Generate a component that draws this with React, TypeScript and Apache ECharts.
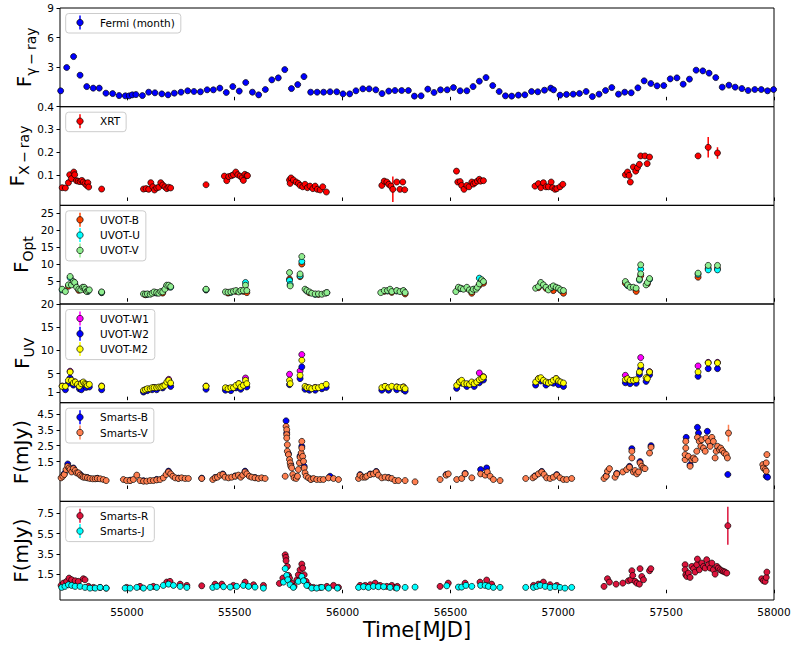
import React, { useEffect, useRef } from 'react';
import * as echarts from 'echarts';

type Pt = number[]; // [mjd, value, optional error]

const FONT = 'DejaVu Sans';

const xTicks = [55000, 55500, 56000, 56500, 57000, 57500, 58000];
const fermiTicks = [3, 6, 9];
const xrtTicks = [0.1, 0.2, 0.3, 0.4];
const optTicks = [5, 10, 15, 20, 25];
const uvTicks = [1, 5, 10, 15, 20];
const smartsBVTicks = [1.5, 2.5, 3.5, 4.5];
const smartsRJTicks = [1.5, 3.5, 5.5, 7.5];

const fermi: Pt[] = [
  [54693, 0.61], [54721, 2.97], [54753, 4.08], [54783, 2.19], [54814, 1.04], [54844, 0.88], [54872, 0.88], [54903, 0.37],
  [54934, 0.33], [54964, 0.13], [54993, 0.1], [55011, 0.1], [55025, 0.2], [55042, 0.23], [55072, 0.13], [55101, 0.47],
  [55130, 0.41], [55162, 0.3], [55191, 0.2], [55220, 0.37], [55251, 0.47], [55282, 0.61], [55311, 0.54], [55341, 0.51],
  [55372, 0.71], [55401, 0.71], [55431, 0.88], [55461, 0.44], [55491, 1.04], [55521, 0.58], [55551, 1.45], [55582, 0.47],
  [55611, 0.2], [55642, 0.74], [55672, 1.72], [55702, 1.92], [55732, 2.76], [55763, 0.84], [55792, 1.24], [55821, 2.05],
  [55852, 0.47], [55882, 0.47], [55912, 0.47], [55942, 0.51], [55973, 0.51], [56002, 0.3], [56033, 0.3], [56062, 0.61],
  [56094, 0.81], [56123, 0.81], [56154, 0.71], [56183, 0.33], [56214, 0.58], [56243, 0.64], [56274, 0.64], [56305, 0.64],
  [56333, 0.07], [56364, 0.1], [56395, 0.78], [56424, 0.44], [56454, 0.71], [56485, 0.71], [56514, 0.94], [56545, 0.61],
  [56576, 0.61], [56605, 1.04], [56634, 1.58], [56665, 1.95], [56696, 1.14], [56726, 0.54], [56755, 0.1], [56784, 0.07],
  [56815, 0.17], [56845, 0.2], [56876, 0.54], [56905, 0.51], [56936, 0.67], [56965, 0.88], [56978, 0.71], [57008, 0.17],
  [57038, 0.24], [57069, 0.27], [57098, 0.34], [57129, 0.54], [57158, 0.03], [57189, 0.27], [57219, 0.64], [57248, 0.94],
  [57279, 0.27], [57308, 0.47], [57338, 0.41], [57369, 0.91], [57398, 1.62], [57429, 1.35], [57458, 1.11], [57489, 1.14],
  [57519, 1.82], [57550, 1.92], [57579, 1.28], [57608, 1.79], [57639, 2.7], [57670, 2.63], [57699, 2.4], [57730, 1.95],
  [57760, 0.98], [57791, 1.18], [57820, 0.98], [57851, 0.84], [57880, 0.64], [57911, 0.74], [57941, 0.74], [57970, 0.61],
  [57998, 0.74],
];

const xrt: Pt[] = [
  [54700, 0.043], [54715, 0.042], [54729, 0.065], [54735, 0.1], [54743, 0.083], [54754, 0.112], [54758, 0.1], [54766, 0.074],
  [54774, 0.072], [54783, 0.07], [54791, 0.075], [54798, 0.068], [54806, 0.061], [54814, 0.053], [54819, 0.065], [54823, 0.046],
  [54883, 0.037],
  [55077, 0.037], [55089, 0.039], [55101, 0.036], [55111, 0.065], [55120, 0.047], [55128, 0.033], [55138, 0.042], [55148, 0.045],
  [55157, 0.065], [55166, 0.055], [55176, 0.047], [55185, 0.039], [55194, 0.045], [55203, 0.042],
  [55367, 0.056],
  [55452, 0.094], [55463, 0.074], [55472, 0.092], [55485, 0.096], [55494, 0.1], [55505, 0.112], [55514, 0.1], [55525, 0.094],
  [55534, 0.087], [55540, 0.075], [55547, 0.102], [55556, 0.096], [55559, 0.096],
  [55754, 0.077], [55757, 0.062], [55761, 0.086], [55772, 0.077], [55785, 0.068], [55795, 0.062], [55803, 0.053], [55815, 0.047],
  [55826, 0.058], [55837, 0.043], [55849, 0.05], [55862, 0.039], [55873, 0.05], [55883, 0.036], [55896, 0.033], [55908, 0.047],
  [55925, 0.024],
  [56182, 0.053], [56193, 0.072], [56205, 0.068], [56214, 0.058], [56224, 0.05], [56233, 0.036, 0.056], [56251, 0.068],
  [56266, 0.036], [56279, 0.068], [56288, 0.034],
  [56528, 0.116], [56534, 0.068], [56545, 0.07], [56552, 0.053], [56563, 0.036], [56576, 0.053], [56586, 0.047], [56599, 0.068, 0.01],
  [56606, 0.059], [56614, 0.065], [56625, 0.072], [56634, 0.08], [56640, 0.072], [56653, 0.074],
  [56892, 0.05], [56908, 0.061], [56919, 0.043], [56931, 0.065, 0.01], [56943, 0.047], [56954, 0.047], [56967, 0.068], [56974, 0.043],
  [56985, 0.036], [56993, 0.039], [57008, 0.047], [57021, 0.058],
  [57311, 0.1], [57321, 0.112], [57328, 0.097], [57334, 0.068], [57348, 0.134], [57359, 0.116], [57367, 0.131], [57376, 0.146],
  [57382, 0.183, 0.012], [57402, 0.183], [57412, 0.149], [57423, 0.178],
  [57648, 0.183, 0.01], [57695, 0.221, 0.045], [57738, 0.196, 0.025],
];

const uvotB: Pt[] = [
  [54729, 3.5], [54752, 4.4], [54777, 2.3], [54808, 2.3], [54883, 1.6], [55086, 1.0], [55126, 1.6], [55166, 1.5], [55194, 3.3],
  [55367, 2.4], [55469, 1.5], [55506, 2.0], [55540, 2.0], [55556, 1.64], [55754, 5.6], [55803, 6.3], [55811, 10.0], [55846, 1.6],
  [55888, 1.1], [56193, 2.0], [56228, 1.7], [56290, 1.25], [56537, 2.9], [56576, 2.9], [56599, 1.45], [56634, 3.8], [56653, 4.4],
  [56908, 3.1], [56943, 2.9], [56977, 2.24], [57024, 1.45], [57311, 4.4], [57361, 2.0], [57382, 6.6], [57413, 4.2], [57648, 6.15],
  [57695, 8.7], [57738, 8.7],
];

const uvotU: Pt[] = [
  [54700, 2.4], [54737, 6.0], [54758, 4.3], [54795, 2.9], [54820, 2.0], [54883, 1.7], [55095, 1.1], [55138, 1.5], [55185, 3.6],
  [55203, 3.2], [55367, 2.5], [55482, 1.7], [55528, 2.1], [55550, 4.6], [55754, 5.2], [55757, 4.0], [55803, 6.55], [55811, 10.76],
  [55834, 2.1], [55873, 1.1], [55927, 1.6], [56208, 2.1], [56251, 2.1], [56282, 2.1], [56548, 2.8], [56606, 2.5], [56634, 5.86],
  [56645, 5.2], [56919, 4.4], [56967, 3.0], [57011, 2.3], [57321, 3.7], [57376, 5.3], [57382, 8.5], [57423, 5.5], [57648, 7.0],
  [57695, 8.3], [57738, 8.3],
];

const uvotV: Pt[] = [
  [54700, 2.63], [54715, 1.94], [54729, 3.9], [54737, 6.35], [54743, 3.9], [54752, 4.88], [54758, 4.6], [54767, 3.2], [54777, 2.63],
  [54786, 2.43], [54795, 3.2], [54802, 3.2], [54808, 2.63], [54814, 1.94], [54820, 2.24], [54826, 2.43],
  [54883, 1.84],
  [55077, 1.25], [55086, 1.15], [55095, 1.25], [55108, 1.15], [55117, 1.45], [55126, 1.84], [55138, 1.64], [55148, 1.45],
  [55157, 1.94], [55166, 1.84], [55176, 2.63], [55185, 3.8], [55194, 3.8], [55203, 3.4],
  [55367, 2.63],
  [55457, 1.84], [55469, 1.74], [55482, 1.84], [55494, 2.04], [55506, 2.24], [55519, 1.84], [55528, 2.24], [55540, 2.24],
  [55550, 3.8], [55556, 2.24],
  [55754, 7.5], [55757, 3.6], [55803, 7.1], [55811, 12.2], [55826, 2.63], [55834, 2.24], [55846, 1.84], [55857, 1.45],
  [55873, 1.25], [55888, 1.25], [55904, 1.15], [55919, 1.45], [55927, 1.64],
  [56177, 1.64], [56193, 2.24], [56208, 2.24], [56220, 2.63], [56228, 1.94], [56251, 2.24], [56266, 1.94], [56282, 2.24], [56290, 1.64],
  [56525, 1.94], [56537, 3.2], [56548, 2.92], [56560, 2.63], [56576, 3.2], [56588, 2.43], [56599, 1.94], [56606, 2.63],
  [56619, 2.63], [56625, 3.2], [56634, 4.2], [56645, 5.4], [56653, 4.88],
  [56895, 2.92], [56908, 3.4], [56919, 4.6], [56931, 3.9], [56943, 3.2], [56954, 2.43], [56967, 3.2], [56977, 3.6],
  [56990, 3.2], [57001, 2.92], [57011, 2.43], [57024, 2.24],
  [57311, 4.88], [57321, 3.9], [57333, 3.2], [57348, 3.2], [57361, 2.92], [57376, 5.57], [57382, 7.14], [57382, 9.78],
  [57407, 3.9], [57413, 4.6], [57423, 5.76],
  [57648, 7.33], [57695, 9.6], [57738, 9.6],
];

const uvotW1: Pt[] = [
  [54700, 2.3], [54737, 5.5], [54758, 3.2], [54789, 2.9], [54817, 2.5], [54883, 2.3], [55086, 1.5], [55126, 2.0], [55166, 2.3],
  [55194, 3.74], [55367, 2.3], [55469, 1.8], [55519, 2.8], [55550, 4.03], [55754, 4.83], [55803, 5.55], [55811, 9.09],
  [55834, 2.0], [55873, 2.0], [56197, 2.2], [56251, 2.1], [56282, 2.1], [56542, 3.2], [56588, 2.7], [56634, 5.12], [56653, 4.3],
  [56908, 3.9], [56954, 3.0], [56990, 3.9], [57311, 4.61], [57348, 3.5], [57382, 8.44], [57423, 5.4], [57648, 6.63],
  [57695, 7.4], [57738, 7.4],
];

const uvotW2: Pt[] = [
  [54715, 1.5], [54729, 2.9], [54737, 4.0], [54752, 2.5], [54780, 1.7], [54789, 1.5], [54811, 2.0], [54826, 2.1], [54883, 1.5],
  [55077, 1.0], [55095, 1.3], [55117, 1.5], [55138, 1.5], [55166, 1.9], [55194, 2.9], [55203, 2.2], [55367, 1.6], [55457, 1.4],
  [55482, 1.3], [55506, 1.9], [55528, 1.6], [55556, 2.1], [55754, 2.6], [55803, 3.9], [55811, 6.42], [55826, 1.6], [55846, 1.4],
  [55873, 1.4], [55904, 1.7], [55924, 2.0], [56182, 1.4], [56213, 1.4], [56251, 1.5], [56282, 1.5], [56290, 1.2], [56529, 1.8],
  [56552, 2.9], [56576, 2.2], [56610, 2.2], [56634, 3.0], [56653, 3.6], [56895, 2.5], [56919, 3.4], [56943, 2.5], [56977, 2.9],
  [57001, 2.6], [57024, 2.2], [57311, 3.0], [57333, 2.8], [57361, 2.9], [57376, 4.8], [57382, 6.05], [57407, 3.3], [57423, 4.7],
  [57648, 4.39], [57695, 6.05], [57738, 6.05],
];

const uvotM2: Pt[] = [
  [54700, 2.23], [54715, 2.23], [54729, 3.53], [54737, 5.33], [54743, 3.53], [54752, 2.95], [54761, 3.17], [54771, 2.66],
  [54780, 2.23], [54789, 2.8], [54798, 3.17], [54805, 2.8], [54811, 2.66], [54817, 2.44], [54826, 2.66],
  [54883, 2.23],
  [55077, 1.36], [55086, 1.5], [55095, 1.72], [55108, 1.72], [55117, 1.94], [55126, 1.94], [55138, 1.94], [55148, 2.08],
  [55157, 2.08], [55166, 2.23], [55176, 2.44], [55185, 3.17], [55194, 3.53], [55203, 2.95],
  [55367, 2.23],
  [55457, 1.94], [55469, 1.72], [55482, 1.94], [55494, 1.94], [55506, 2.44], [55519, 2.8], [55528, 2.08], [55540, 2.44],
  [55550, 3.53], [55556, 2.8],
  [55754, 3.53], [55757, 2.8], [55803, 4.61], [55811, 7.86], [55826, 2.23], [55834, 1.94], [55846, 1.94], [55857, 1.72],
  [55873, 1.94], [55888, 1.94], [55904, 2.23], [55924, 2.66],
  [56182, 1.94], [56197, 2.23], [56213, 1.94], [56228, 2.23], [56251, 2.08], [56266, 1.94], [56282, 2.08], [56290, 1.72],
  [56529, 2.44], [56542, 3.17], [56552, 3.53], [56563, 2.8], [56576, 2.8], [56588, 2.66], [56599, 3.17], [56610, 2.8],
  [56622, 3.17], [56634, 3.67], [56645, 3.89], [56653, 4.25],
  [56895, 3.17], [56908, 3.89], [56919, 4.1], [56931, 3.53], [56943, 3.17], [56954, 2.95], [56967, 3.17], [56977, 3.53],
  [56990, 3.89], [57001, 3.38], [57011, 3.17], [57024, 2.95],
  [57311, 3.67], [57321, 3.89], [57333, 3.53], [57348, 3.53], [57361, 3.67], [57376, 5.33], [57382, 6.78], [57407, 4.1],
  [57413, 3.89], [57423, 5.33],
  [57648, 5.33], [57695, 7.28], [57738, 7.28],
];

const smartsB: Pt[] = [
  [54710, 0.75], [54726, 1.35], [54752, 1.1], [54783, 0.7], [54817, 0.5], [54863, 0.45], [55015, 0.33], [55077, 0.3],
  [55138, 0.38], [55193, 0.9], [55239, 0.46], [55347, 0.46], [55409, 0.5], [55445, 0.72], [55502, 0.6], [55548, 0.9],
  [55594, 0.5], [55738, 4.06], [55741, 3.3], [55749, 2.0], [55760, 1.3], [55803, 1.85], [55811, 2.46], [55822, 1.2],
  [55853, 0.4], [55942, 0.58], [56081, 0.68], [56128, 0.72], [56156, 0.88], [56213, 0.5], [56480, 0.68], [56568, 0.76],
  [56640, 1.0], [56668, 1.1], [56892, 0.6], [56923, 0.88], [56993, 0.68], [57222, 0.6], [57271, 0.76], [57330, 1.2],
  [57341, 2.31], [57379, 1.5], [57430, 2.5], [57593, 3.02], [57611, 1.3], [57645, 3.65], [57650, 3.29], [57691, 3.4],
  [57704, 2.6], [57747, 2.35], [57786, 0.69], [57964, 0.58], [57970, 0.52],
];

const smartsV: Pt[] = [
  [54695, 0.48], [54703, 0.58], [54710, 0.69], [54718, 1.0], [54726, 1.21], [54732, 1.1], [54737, 1.0], [54744, 0.85],
  [54752, 1.06], [54760, 0.94], [54767, 0.79], [54775, 0.79], [54783, 0.65], [54791, 0.58], [54798, 0.52], [54806, 0.52],
  [54817, 0.48], [54829, 0.44], [54842, 0.42], [54853, 0.42], [54863, 0.44], [54876, 0.42], [54891, 0.375], [54904, 0.31],
  [54984, 0.375], [54999, 0.31], [55015, 0.31], [55030, 0.375], [55046, 0.65], [55061, 0.31], [55077, 0.27], [55092, 0.27],
  [55108, 0.31], [55123, 0.31], [55138, 0.35], [55154, 0.375], [55169, 0.48], [55182, 0.69], [55193, 0.85], [55203, 0.73],
  [55213, 0.58], [55224, 0.48], [55239, 0.44], [55254, 0.48], [55270, 0.44], [55285, 0.44],
  [55347, 0.44],
  [55398, 0.375], [55409, 0.48], [55420, 0.52], [55432, 0.65], [55445, 0.69], [55455, 0.52], [55471, 0.48], [55486, 0.52],
  [55502, 0.58], [55517, 0.65], [55528, 0.52], [55537, 0.65], [55548, 0.85], [55556, 0.73], [55568, 0.58], [55579, 0.52],
  [55594, 0.48], [55610, 0.44], [55625, 0.48], [55641, 0.44],
  [55734, 0.58], [55738, 3.71], [55741, 3.5], [55741, 3.19], [55741, 2.98], [55744, 2.56], [55744, 2.15], [55749, 1.94],
  [55754, 1.63], [55757, 1.42], [55760, 1.21], [55764, 1.1], [55769, 0.69], [55775, 0.48], [55785, 0.44], [55791, 0.58],
  [55795, 1.0], [55800, 1.42], [55803, 1.77], [55808, 2.04], [55811, 2.77], [55811, 2.35], [55815, 1.83], [55819, 1.52],
  [55822, 1.1], [55826, 0.79], [55831, 0.58], [55842, 0.48], [55853, 0.375], [55865, 0.44], [55880, 0.375], [55896, 0.375],
  [55911, 0.375], [55935, 0.48], [55958, 0.44], [55981, 0.375],
  [56074, 0.44], [56081, 0.65], [56094, 0.52], [56105, 0.52], [56112, 0.58], [56128, 0.69], [56143, 0.73], [56156, 0.85],
  [56166, 0.65], [56182, 0.48], [56197, 0.52], [56213, 0.48], [56228, 0.44], [56243, 0.31], [56259, 0.31], [56290, 0.31],
  [56336, 0.23],
  [56452, 0.375], [56480, 0.65], [56490, 0.73], [56529, 0.375], [56552, 0.44], [56568, 0.73], [56599, 0.48], [56640, 0.73],
  [56661, 0.65], [56671, 0.85], [56684, 0.58], [56699, 0.375], [56730, 0.31],
  [56849, 0.44], [56882, 0.48], [56892, 0.58], [56908, 0.73], [56923, 0.85], [56934, 0.69], [56946, 0.48], [56962, 0.44],
  [56977, 0.52], [56993, 0.65], [57008, 0.48], [57024, 0.375], [57039, 0.375], [57062, 0.44],
  [57212, 0.44], [57222, 0.58], [57228, 0.9], [57237, 1.06], [57263, 0.52], [57271, 0.73], [57299, 0.85], [57317, 1.0],
  [57330, 1.15], [57341, 1.73], [57341, 2.15], [57348, 0.85], [57356, 0.94], [57364, 0.73], [57372, 0.85], [57379, 1.42],
  [57387, 1.21], [57395, 1.1], [57402, 1.06], [57423, 2.04], [57430, 2.4],
  [57588, 1.625], [57588, 1.94], [57591, 2.35], [57591, 2.77], [57603, 1.83], [57611, 1.21], [57619, 1.625], [57627, 1.73],
  [57634, 1.625], [57642, 2.15], [57645, 3.02], [57654, 2.77], [57661, 2.46], [57665, 2.875], [57673, 2.35], [57681, 2.15],
  [57685, 2.98], [57696, 2.77], [57704, 2.46], [57712, 3.02], [57719, 2.77], [57727, 1.73], [57732, 2.15], [57738, 2.46],
  [57747, 2.25], [57753, 2.35], [57761, 2.19], [57769, 2.04], [57778, 1.94], [57784, 1.73], [57789, 3.29, 0.52],
  [57948, 1.31], [57951, 1.1], [57959, 1.0], [57964, 1.42], [57964, 0.9], [57967, 1.94],
];

const smartsR: Pt[] = [
  [54695, 0.425], [54706, 0.65], [54721, 0.82], [54732, 1.14], [54744, 0.98], [54760, 0.88], [54775, 0.82], [54798, 1.08],
  [54806, 0.98], [54822, 0.33], [54845, 0.23], [54876, 0.23], [54904, 0.16],
  [54999, 0.23], [55061, 0.33], [55123, 0.33], [55185, 0.75], [55200, 0.82], [55247, 0.55], [55278, 0.425],
  [55347, 0.39],
  [55409, 0.55], [55440, 0.55], [55494, 0.425], [55548, 0.75], [55587, 0.49], [55633, 0.425],
  [55707, 0.62], [55723, 1.14], [55734, 3.42], [55737, 3.16], [55738, 2.84], [55744, 2.28], [55749, 1.4], [55754, 1.14],
  [55764, 0.65], [55775, 0.33], [55788, 0.98], [55795, 1.47], [55803, 1.96], [55811, 2.51], [55815, 2.12], [55822, 1.47],
  [55831, 0.82], [55842, 0.425], [55865, 0.23], [55896, 0.23], [55927, 0.33], [55958, 0.425], [55981, 0.23],
  [56081, 0.425], [56105, 0.425], [56128, 0.49], [56151, 0.65], [56174, 0.425], [56205, 0.33], [56228, 0.425], [56243, 0.23],
  [56254, 0.33],
  [56452, 0.33], [56490, 0.65], [56568, 0.65], [56637, 0.75], [56668, 0.95], [56691, 0.55],
  [56885, 0.425], [56908, 0.55], [56931, 0.75], [56962, 0.49], [56993, 0.425],
  [57212, 0.33], [57228, 1.08], [57237, 0.75], [57268, 0.55], [57299, 0.65], [57325, 0.88], [57336, 0.98], [57341, 1.86],
  [57345, 1.4], [57356, 0.82], [57364, 0.65], [57376, 0.55], [57379, 2.06], [57387, 1.3], [57395, 0.98], [57423, 1.86],
  [57429, 2.06],
  [57588, 2.45], [57588, 1.96], [57591, 1.47], [57596, 1.3], [57603, 1.63], [57611, 1.21], [57619, 2.28], [57627, 2.06],
  [57634, 1.73], [57642, 2.45], [57645, 3.0], [57654, 1.96], [57665, 2.61], [57673, 2.28], [57681, 2.12], [57688, 2.94],
  [57696, 2.45], [57704, 2.12], [57712, 2.61], [57719, 1.96], [57727, 1.53], [57735, 2.28], [57742, 2.12], [57750, 1.96],
  [57758, 1.86], [57766, 1.79], [57773, 1.73], [57781, 1.63], [57786, 6.26, 1.86],
  [57943, 1.08], [57951, 0.88], [57959, 0.82], [57964, 1.21], [57967, 1.73],
];

const smartsJ: Pt[] = [
  [54698, 0.23], [54713, 0.33], [54729, 0.49], [54744, 0.425], [54760, 0.33], [54783, 0.33], [54806, 0.23], [54829, 0.16],
  [54853, 0.16], [54876, 0.23], [54904, 0.16],
  [54992, 0.16], [55015, 0.16], [55046, 0.23], [55077, 0.16], [55108, 0.23], [55138, 0.23], [55169, 0.425], [55193, 0.55],
  [55216, 0.425], [55247, 0.33], [55278, 0.23],
  [55398, 0.23], [55417, 0.33], [55448, 0.3], [55479, 0.26], [55509, 0.33], [55540, 0.425], [55564, 0.33], [55594, 0.26],
  [55633, 0.16],
  [55726, 0.75], [55734, 2.06], [55741, 1.4], [55746, 0.98], [55757, 0.49], [55772, 0.23], [55795, 0.82], [55811, 1.3],
  [55819, 0.88], [55834, 0.425], [55857, 0.16], [55880, 0.16], [55904, 0.23], [55935, 0.16], [55976, 0.16],
  [56074, 0.23], [56097, 0.3], [56120, 0.23], [56143, 0.33], [56166, 0.3], [56190, 0.3], [56220, 0.23], [56251, 0.16],
  [56290, 0.23], [56336, 0.26],
  [56483, 0.39], [56537, 0.26], [56552, 0.26], [56572, 0.425], [56599, 0.33], [56640, 0.425], [56661, 0.425], [56676, 0.33],
  [56699, 0.23], [56730, 0.23],
  [56849, 0.23], [56885, 0.23], [56900, 0.33], [56916, 0.425], [56939, 0.33], [56962, 0.23], [56985, 0.3], [57008, 0.23],
  [57031, 0.16], [57062, 0.23],
];

interface SeriesDef { name: string; color: string; data: Pt[] }
interface PanelDef {
  min: number; max: number; ticks: number[];
  labelMain: string; labelSub: string; labelX: number;
  series: SeriesDef[];
}

const panels: PanelDef[] = [
  { min: -1, max: 9, ticks: fermiTicks, labelMain: 'F', labelSub: 'γ\u2009−\u2009ray', labelX: 24,
    series: [{ name: 'Fermi (month)', color: '#0000ff', data: fermi }] },
  { min: -0.035, max: 0.4, ticks: xrtTicks, labelMain: 'F', labelSub: 'X\u2009−\u2009ray', labelX: 17,
    series: [{ name: 'XRT', color: '#ff0000', data: xrt }] },
  { min: -1.7, max: 27.2, ticks: optTicks, labelMain: 'F', labelSub: 'Opt', labelX: 20.5,
    series: [
      { name: 'UVOT-B', color: '#ff4500', data: uvotB },
      { name: 'UVOT-U', color: '#00ffff', data: uvotU },
      { name: 'UVOT-V', color: '#90ee90', data: uvotV },
    ] },
  { min: -1.3, max: 20, ticks: uvTicks, labelMain: 'F', labelSub: 'UV', labelX: 22,
    series: [
      { name: 'UVOT-W1', color: '#ff00ff', data: uvotW1 },
      { name: 'UVOT-W2', color: '#0000ff', data: uvotW2 },
      { name: 'UVOT-M2', color: '#ffff00', data: uvotM2 },
    ] },
  { min: -1, max: 5.2, ticks: smartsBVTicks, labelMain: 'F(mJy)', labelSub: '', labelX: 20.5,
    series: [
      { name: 'Smarts-B', color: '#0000ff', data: smartsB },
      { name: 'Smarts-V', color: '#ff7f50', data: smartsV },
    ] },
  { min: -1, max: 8.65, ticks: smartsRJTicks, labelMain: 'F(mJy)', labelSub: '', labelX: 20.5,
    series: [
      { name: 'Smarts-R', color: '#dc143c', data: smartsR },
      { name: 'Smarts-J', color: '#00ffff', data: smartsJ },
    ] },
];

const PANEL_TOP = [8, 106.7, 205.3, 304, 402.7, 501.3];
const PANEL_H = 98.7;
const PLOT_LEFT = 60;
const PLOT_W = 714;
const X_MIN = 54690;
const X_MAX = 58000;

export default function App() {
  const ref = useRef<HTMLDivElement>(null);

  useEffect(() => {
    document.body.style.margin = '0';
    const el = ref.current;
    if (!el) return;
    const chart = echarts.init(el, null, { renderer: 'svg' });

    const cv = document.createElement('canvas');
    const ctx = cv.getContext('2d');
    const tw = (text: string, size: number) => {
      if (!ctx) return text.length * size * 0.6;
      ctx.font = `${size}px "${FONT}"`;
      return ctx.measureText(text).width;
    };

    const grids: any[] = [];
    const xAxes: any[] = [];
    const yAxes: any[] = [];
    const series: any[] = [];
    const graphics: any[] = [];

    panels.forEach((p, i) => {
      const top = PANEL_TOP[i];
      grids.push({
        left: PLOT_LEFT, top, width: PLOT_W, height: PANEL_H,
        show: true, borderColor: '#000', borderWidth: 1, backgroundColor: 'transparent',
        containLabel: false, outerBoundsMode: 'none',
      });
      xAxes.push({
        type: 'value', gridIndex: i, min: X_MIN, max: X_MAX,
        axisLine: { show: false }, splitLine: { show: false },
        axisTick: { show: true, inside: false, length: 3.5, customValues: xTicks, lineStyle: { color: '#000', width: 1 } },
        axisLabel: { show: i === panels.length - 1, customValues: xTicks, fontSize: 10.5, color: '#000', fontFamily: FONT, margin: 6,
          formatter: (v: number) => String(v) },
      });
      yAxes.push({
        type: 'value', gridIndex: i, min: p.min, max: p.max,
        axisLine: { show: false }, splitLine: { show: false },
        axisTick: { show: true, inside: false, length: 3.5, customValues: p.ticks, lineStyle: { color: '#000', width: 1 } },
        axisLabel: { show: true, customValues: p.ticks, fontSize: 10.5, color: '#000', fontFamily: FONT, margin: 6,
          formatter: (v: number) => String(v) },
      });

      p.series.forEach((s) => {
        const errs = s.data.filter((d) => d.length > 2);
        if (errs.length) {
          series.push({
            type: 'custom', name: s.name + ' err', xAxisIndex: i, yAxisIndex: i, z: 2, clip: true,
            data: errs, encode: { x: 0, y: 1 },
            renderItem: (_params: any, api: any) => {
              const x = api.value(0), y = api.value(1), e = api.value(2);
              const a = api.coord([x, y - e]);
              const b = api.coord([x, y + e]);
              return { type: 'line', shape: { x1: a[0], y1: a[1], x2: b[0], y2: b[1] },
                style: { stroke: s.color, lineWidth: 1.5 } };
            },
          });
        }
        series.push({
          type: 'scatter', name: s.name, xAxisIndex: i, yAxisIndex: i, z: 3,
          data: s.data.map((d) => [d[0], d[1]]),
          symbol: 'circle', symbolSize: 6,
          itemStyle: { color: s.color, borderColor: '#000', borderWidth: 0.7, opacity: 1 },
        });
      });

      // y-axis label (rotated)
      const cy = top + PANEL_H / 2;
      const wMain = tw(p.labelMain, 20);
      const wSub = p.labelSub ? tw(p.labelSub, 14) : 0;
      const W = wMain + wSub;
      const children: any[] = [
        { type: 'text', x: -W / 2, y: 0,
          style: { text: p.labelMain, fontSize: 20, fontFamily: FONT, fill: '#000', align: 'left', verticalAlign: 'middle' } },
      ];
      if (p.labelSub) {
        children.push({ type: 'text', x: -W / 2 + wMain, y: 7,
          style: { text: p.labelSub, fontSize: 14, fontFamily: FONT, fill: '#000', align: 'left', verticalAlign: 'middle' } });
      }
      graphics.push({ type: 'group', x: p.labelX, y: cy, rotation: Math.PI / 2, children });

      // legend
      const n = p.series.length;
      const maxW = Math.max(...p.series.map((s) => tw(s.name, 10.5)));
      const boxLeft = 65.7;
      const boxTop = top + 5.5;
      const boxRight = 100 + maxW + 6;
      const rowGap = 15.3;
      const legChildren: any[] = [
        { type: 'rect', shape: { x: boxLeft, y: boxTop, width: boxRight - boxLeft, height: (n - 1) * rowGap + 19.5, r: 3 },
          style: { fill: 'rgba(255,255,255,0.8)', stroke: '#cccccc', lineWidth: 1 } },
      ];
      p.series.forEach((s, k) => {
        const yy = top + 14.5 + k * rowGap;
        legChildren.push({ type: 'line', shape: { x1: 80, y1: yy - 7, x2: 80, y2: yy + 7 },
          style: { stroke: s.color, lineWidth: 1.5 } });
        legChildren.push({ type: 'circle', shape: { cx: 80, cy: yy, r: 3.2 },
          style: { fill: s.color, stroke: '#000', lineWidth: 0.7 } });
        legChildren.push({ type: 'text', x: 100, y: yy,
          style: { text: s.name, fontSize: 10.5, fontFamily: FONT, fill: '#000', align: 'left', verticalAlign: 'middle' } });
      });
      graphics.push({ type: 'group', z: 10, children: legChildren });
    });

    graphics.push({ type: 'text', x: PLOT_LEFT + PLOT_W / 2, y: 630,
      style: { text: 'Time[MJD]', fontSize: 21, fontFamily: FONT, fill: '#000', align: 'center', verticalAlign: 'middle' } });

    chart.setOption({
      animation: false,
      backgroundColor: '#ffffff',
      textStyle: { fontFamily: FONT },
      grid: grids,
      xAxis: xAxes,
      yAxis: yAxes,
      series,
      graphic: { elements: graphics },
    });

    return () => chart.dispose();
  }, []);

  return <div ref={ref} style={{ width: 791, height: 648 }} />;
}
